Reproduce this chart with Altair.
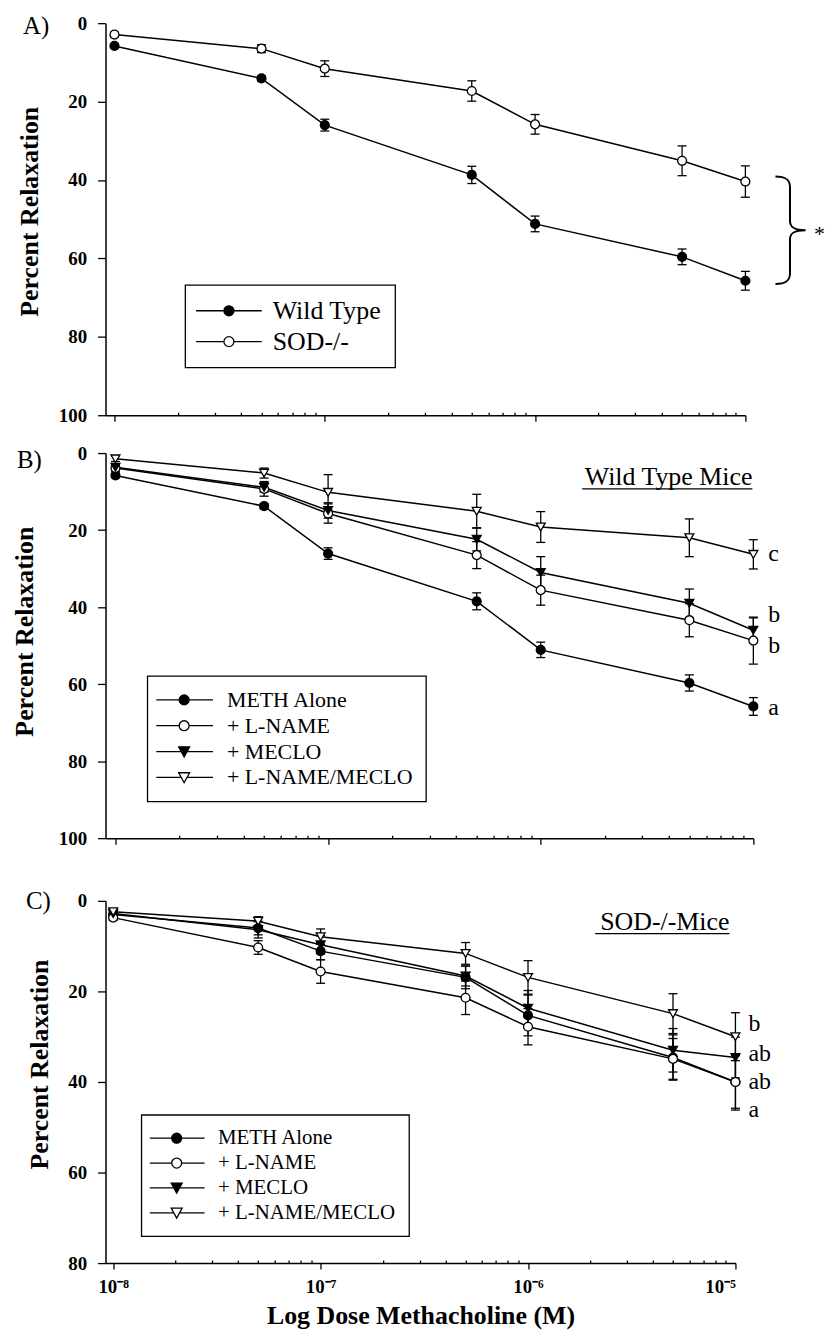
import json
import pandas as pd
import altair as alt

# ---------------- data ----------------
doses = [1e-8, 5e-8, 1e-7, 5e-7, 1e-6, 5e-6, 1e-5]

# Panel A
a_series = ["Wild Type", "SOD-/-"]
a_wild = [5.8, 14.1, 26.0, 38.7, 51.2, 59.6, 65.7]
a_wild_se = [0.6, 0.7, 1.5, 2.2, 2.0, 2.0, 2.4]
a_sod = [2.9, 6.5, 11.6, 17.3, 25.8, 35.1, 40.4]
a_sod_se = [0.6, 1.0, 2.0, 2.6, 2.5, 3.8, 4.0]
a_brace_span = [39.1, 66.5]
a_star = ["*"]
a_star_y = [53.8]

# Panel B (wild type mice)
treat_series = ["METH Alone", "+ L-NAME", "+ MECLO", "+ L-NAME/MECLO"]
b_meth = [5.8, 13.8, 26.1, 38.5, 51.1, 59.7, 65.8]
b_meth_se = [0.6, 0.7, 1.5, 2.2, 2.0, 2.1, 2.3]
b_lname = [3.9, 9.3, 15.7, 26.5, 35.6, 43.4, 48.7]
b_lname_se = [0.8, 1.9, 2.5, 3.5, 3.9, 4.3, 6.1]
b_meclo = [3.7, 8.9, 14.9, 22.4, 31.0, 39.0, 46.0]
b_meclo_se = [0.7, 1.2, 2.0, 3.0, 4.1, 3.7, 3.2]
b_lm = [1.5, 5.2, 10.2, 15.1, 19.2, 22.0, 26.3]
b_lm_se = [0.7, 1.3, 4.6, 4.4, 4.0, 4.9, 3.8]
b_letters = ["c", "b", "b", "a"]
b_letter_y = [26.3, 42.1, 50.0, 66.2]
b_subtitle = ["Wild Type Mice"]

# Panel C (SOD-/- mice)
c_meth = [3.0, 6.0, 11.1, 16.9, 25.3, 34.6, 40.0]
c_meth_se = [0.5, 1.5, 1.9, 2.5, 4.5, 5.0, 5.8]
c_lname = [3.7, 10.3, 15.6, 21.4, 27.8, 34.9, 40.0]
c_lname_se = [0.6, 1.5, 2.6, 3.7, 4.0, 4.5, 6.2]
c_meclo = [2.8, 6.4, 9.7, 16.6, 23.7, 33.0, 34.6]
c_meclo_se = [0.5, 1.8, 2.0, 2.2, 3.9, 4.8, 4.5]
c_lm = [2.4, 4.5, 7.9, 11.6, 16.9, 24.9, 30.0]
c_lm_se = [0.4, 1.0, 1.7, 2.4, 3.7, 4.4, 5.3]
c_letters = ["b", "ab", "ab", "a"]
c_letter_y = [27.2, 33.8, 40.0, 46.1]
c_subtitle = ["SOD-/-Mice"]

panel_labels = ["A)", "B)", "C)"]
y_title = "Percent Relaxation"
x_title = "Log Dose Methacholine (M)"
x_major = [1e-8, 1e-7, 1e-6, 1e-5]
x_tick_labels = ["10⁻⁸", "10⁻⁷", "10⁻⁶", "10⁻⁵"]
x_minor = [k * 10.0 ** e for e in (-8, -7, -6) for k in range(2, 10)]

SERIF = "Liberation Serif"


def long_df(names, values, ses):
    rows = []
    for name, vals, se in zip(names, values, ses):
        for x, v, s in zip(doses, vals, se):
            rows.append({"x": x, "series": name, "y": v, "lo": v - s, "hi": v + s})
    return pd.DataFrame(rows)


def leg_path(kind, length_px, cx_px, unit=5.0, start_px=-15.0):
    x0 = start_px / unit
    x1 = x0 + length_px / unit
    cx = x0 + cx_px / unit
    if kind == "circle":
        r = 1.0
        return (f"M{x0:.3f},0H{cx - r:.3f}M{cx + r:.3f},0H{x1:.3f}"
                f"M{cx - r:.3f},0A{r},{r},0,1,1,{cx + r:.3f},0A{r},{r},0,1,1,{cx - r:.3f},0Z")
    g = 0.58
    return (f"M{x0:.3f},0H{cx - g:.3f}M{cx + g:.3f},0H{x1:.3f}"
            f"M{cx - 1.1:.3f},-0.95L{cx + 1.1:.3f},-0.95L{cx:.3f},1.05Z")


BRACE = ("M0.56,-1C0.74,-1,0.83,-0.95,0.83,-0.8L0.83,-0.17"
         "C0.83,-0.06,0.9,0,1.12,0C0.9,0,0.83,0.06,0.83,0.17"
         "L0.83,0.8C0.83,0.95,0.74,1,0.56,1")


def panel(df, names, kinds, fills, sizes, W, H, xmin_exp, ymax, show_x,
          title_x, title_y, plabel, plabel_pos, leg, extras):
    xscale = alt.Scale(type="log", domain=[10 ** xmin_exp, 1e-5], nice=False)
    yscale = alt.Scale(domain=[0, ymax], reverse=True, nice=False)
    yaxis = alt.Axis(values=list(range(0, ymax + 1, 20)), title=y_title, tickSize=8,
                     labelPadding=11, labelFont=SERIF, labelFontWeight="bold",
                     labelFontSize=19, titleFont=SERIF, titleFontWeight="bold",
                     titleFontSize=26, titleX=title_x, titleY=title_y, grid=False)
    if show_x:
        labels_js = json.dumps(x_tick_labels, ensure_ascii=False)
        main_axis = alt.Axis(values=x_major, orient="bottom", tickSize=6, labelPadding=9,
                             labelFont=SERIF, labelFontWeight="bold", labelFontSize=19,
                             labelExpr=f"{labels_js}[round(log(datum.value)/LN10)+8]",
                             title=x_title, titleFont=SERIF, titleFontWeight="bold",
                             titleFontSize=26, titlePadding=6, grid=False)
    else:
        main_axis = alt.Axis(values=x_major, orient="bottom", tickSize=6, labels=False,
                             title=None, grid=False)
    # minor ticks drawn inward: a second bottom axis lifted 3px into the plot
    minor_axis = alt.Axis(values=x_minor, orient="bottom", offset=-3, tickSize=3,
                          labels=False, domain=False, title=None, grid=False)

    def X(axis):
        return alt.X("x:Q", scale=xscale, axis=axis)

    def Y(field):
        return alt.Y(f"{field}:Q", scale=yscale, axis=yaxis)

    base = alt.Chart(df)
    lines = base.mark_line(color="black", strokeWidth=1.5).encode(
        x=X(main_axis), y=Y("y"), detail="series:N")
    rules = base.mark_rule(color="black", strokeWidth=1.3).encode(
        x=X(minor_axis), y=Y("lo"), y2="hi:Q")
    cap_lo = base.mark_tick(orient="horizontal", color="black", thickness=1.3,
                            size=9, opacity=1).encode(x=X(None), y=Y("lo"))
    cap_hi = base.mark_tick(orient="horizontal", color="black", thickness=1.3,
                            size=9, opacity=1).encode(x=X(None), y=Y("hi"))
    pts = base.mark_point(filled=True, stroke="black", strokeWidth=1.3, opacity=1).encode(
        x=X(None), y=Y("y"),
        shape=alt.Shape("series:N", scale=alt.Scale(domain=names, range=kinds), legend=None),
        fill=alt.Fill("series:N", scale=alt.Scale(domain=names, range=fills), legend=None),
        size=alt.Size("series:N", scale=alt.Scale(domain=names, range=sizes), legend=None),
    )
    paths = [leg_path(k, leg["len"], leg["cx"]) for k in kinds]
    lg = alt.Legend(title=None, orient="none", legendX=leg["x"], legendY=leg["y"],
                    padding=leg["pad"], rowPadding=leg["rp"], labelOffset=leg["lo"],
                    labelFont=SERIF, labelFontSize=leg["fs"], labelColor="black",
                    symbolSize=100, symbolStrokeWidth=1.3,
                    strokeColor="black", labelLimit=0, labelBaseline="middle")
    legend_layer = base.transform_filter("false").mark_point(
        filled=True, size=100, strokeWidth=1.3, opacity=1).encode(
        x=X(None), y=Y("y"),
        shape=alt.Shape("series:N", scale=alt.Scale(domain=names, range=paths), legend=lg),
        fill=alt.Fill("series:N", scale=alt.Scale(domain=names, range=fills), legend=lg),
        stroke=alt.Stroke("series:N", scale=alt.Scale(domain=names, range=["black"] * len(names)),
                          legend=lg),
    )
    lab = alt.Chart(pd.DataFrame({"t": [plabel]})).mark_text(
        font=SERIF, fontSize=25, align="left", baseline="alphabetic", color="black").encode(
        text="t:N", x=alt.value(plabel_pos[0]), y=alt.value(plabel_pos[1]))

    layers = [lines, rules, cap_lo, cap_hi, pts, legend_layer, lab]
    layers += [e(X, Y, W) for e in extras]
    return alt.layer(*layers).properties(width=W, height=H).resolve_scale(
        shape="independent", fill="independent", size="independent",
        stroke="independent").resolve_axis(x="independent")


def letters_extra(letters, ys, dx):
    def f(X, Y, W):
        d = pd.DataFrame({"x": [1e-5] * len(letters), "ly": ys, "t": letters})
        return alt.Chart(d).mark_text(font=SERIF, fontSize=24, align="left",
                                      baseline="middle", dx=dx, color="black").encode(
            x=X(None), y=Y("ly"), text="t:N")
    return f


def subtitle_extra(text, right_off, base_y, ul_len, ul_y):
    def f(X, Y, W):
        d = pd.DataFrame({"t": text})
        t = alt.Chart(d).mark_text(font=SERIF, fontSize=26, align="right",
                                   baseline="alphabetic", color="black").encode(
            text="t:N", x=alt.value(W - right_off), y=alt.value(base_y))
        u = alt.Chart(d).mark_rule(color="black", strokeWidth=1.3).encode(
            x=alt.value(W - right_off - ul_len), x2=alt.value(W - right_off), y=alt.value(ul_y))
        return t + u
    return f


def brace_extra():
    def f(X, Y, W):
        mid = (a_brace_span[0] + a_brace_span[1]) / 2
        d = pd.DataFrame({"x": [1e-5], "by": [mid]})
        br = alt.Chart(d).mark_point(shape=BRACE, size=108 ** 2, filled=False,
                                     stroke="black", strokeWidth=2, opacity=1).encode(
            x=X(None), y=Y("by"))
        d2 = pd.DataFrame({"x": [1e-5], "sy": a_star_y, "t": a_star})
        st = alt.Chart(d2).mark_text(font=SERIF, fontSize=22, align="left",
                                     baseline="middle", dx=69, color="black").encode(
            x=X(None), y=Y("sy"), text="t:N")
        return br + st
    return f


dfA = long_df(a_series, [a_wild, a_sod], [a_wild_se, a_sod_se])
dfB = long_df(treat_series, [b_meth, b_lname, b_meclo, b_lm],
              [b_meth_se, b_lname_se, b_meclo_se, b_lm_se])
dfC = long_df(treat_series, [c_meth, c_lname, c_meclo, c_lm],
              [c_meth_se, c_lname_se, c_meclo_se, c_lm_se])

kinds4 = ["circle", "circle", "triangle-down", "triangle-down"]
fills4 = ["black", "white", "black", "white"]
sizes4 = [80, 80, 95, 95]

A = panel(dfA, a_series, ["circle", "circle"], ["black", "white"], [80, 80],
          W=643, H=394, xmin_exp=-8.0426, ymax=100, show_x=False,
          title_x=-63, title_y=189, plabel=panel_labels[0], plabel_pos=(-83, 11),
          leg=dict(x=80, y=263, pad=13, rp=5, lo=49, fs=26, len=66, cx=33),
          extras=[brace_extra()])
B = panel(dfB, treat_series, kinds4, fills4, sizes4,
          W=651, H=387, xmin_exp=-8.0468, ymax=100, show_x=False,
          title_x=-68, title_y=179, plabel=panel_labels[1], plabel_pos=(-89, 15),
          leg=dict(x=42, y=224, pad=13, rp=4, lo=45, fs=22, len=57, cx=28),
          extras=[letters_extra(b_letters, b_letter_y, 15),
                  subtitle_extra(b_subtitle, 1, 32, 171, 36)])
C = panel(dfC, treat_series, kinds4, fills4, sizes4,
          W=633, H=364, xmin_exp=-8.0369, ymax=80, show_x=True,
          title_x=-53, title_y=164, plabel=panel_labels[2], plabel_pos=(-80, 8),
          leg=dict(x=36, y=215, pad=13, rp=3, lo=43, fs=21, len=55, cx=27),
          extras=[letters_extra(c_letters, c_letter_y, 13),
                  subtitle_extra(c_subtitle, 6, 29, 135, 33)])


def spacer(h):
    return alt.Chart(pd.DataFrame({"v": [0]})).mark_point(opacity=0).encode(
        x=alt.value(0), y=alt.value(0)).properties(width=10, height=h)


chart = alt.vconcat(A, spacer(13), B, spacer(38), C, spacing=12.5, bounds="flush").properties(
    padding={"left": 4, "top": 3, "right": 0, "bottom": 0}
).configure_view(stroke=None).configure_axis(
    domainColor="black", tickColor="black", labelColor="black", titleColor="black",
    domainWidth=1.5, tickWidth=1.3, grid=False
).configure_legend(strokeWidth=1.3)

chart.save("out.html", embed_options={"renderer": "svg", "actions": False})
